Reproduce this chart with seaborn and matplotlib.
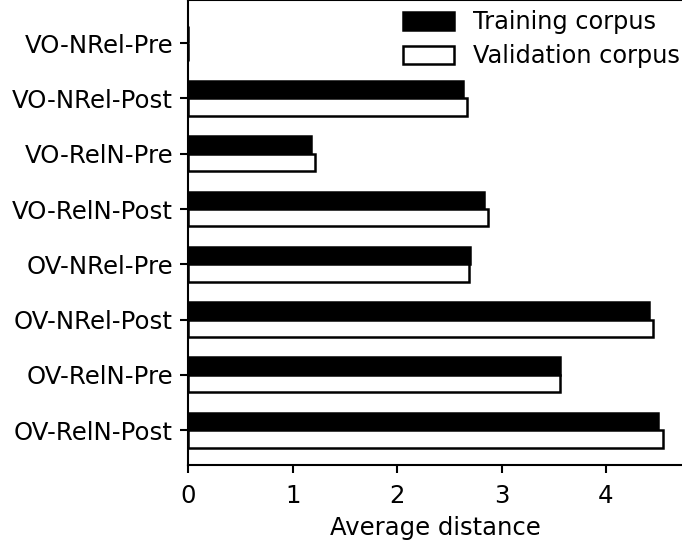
import matplotlib
matplotlib.use("Agg")
import matplotlib.pyplot as plt
import seaborn as sns
import pandas as pd

categories = ["VO-NRel-Pre", "VO-NRel-Post", "VO-RelN-Pre", "VO-RelN-Post",
              "OV-NRel-Pre", "OV-NRel-Post", "OV-RelN-Pre", "OV-RelN-Post"]
training = [0.0, 2.63, 1.18, 2.83, 2.70, 4.41, 3.56, 4.50]
validation = [0.0, 2.67, 1.21, 2.87, 2.69, 4.45, 3.56, 4.55]
series = ["Training corpus", "Validation corpus"]

df = pd.DataFrame({
    "category": categories * 2,
    "value": training + validation,
    "corpus": [series[0]] * len(categories) + [series[1]] * len(categories),
})

sns.set_style("ticks")
plt.rcParams["font.family"] = ["DejaVu Sans"]
plt.rcParams["text.color"] = "black"
plt.rcParams["axes.labelcolor"] = "black"
plt.rcParams["xtick.color"] = "black"
plt.rcParams["ytick.color"] = "black"

fig = plt.figure(figsize=(6.82, 5.44), dpi=100)
ax = fig.add_axes([188.3 / 682, 1 - 465 / 544, 1 - 188.3 / 682, 465 / 544])

sns.barplot(data=df, y="category", x="value", hue="corpus", order=categories,
            hue_order=series, palette=["black", "white"], width=0.63,
            edgecolor="black", linewidth=1.8, ax=ax, orient="h")

ax.set_xlim(0, (682 - 188.3) / 104.4)
ax.set_ylim(7.63, -0.78)
ax.set_xticks([0, 1, 2, 3, 4])
ax.set_xlabel("Average distance", fontsize=17.5, color="black", labelpad=5.5)
ax.set_ylabel("")
ax.tick_params(axis="both", labelsize=17.6, width=1.5, length=6, color="black",
               labelcolor="black")
ax.tick_params(axis="x", pad=8)
ax.tick_params(axis="y", pad=5)
for s in ["left", "bottom", "top"]:
    ax.spines[s].set_linewidth(1.5)
    ax.spines[s].set_color("black")
ax.spines["right"].set_visible(False)

leg = ax.legend(loc="upper right", bbox_to_anchor=(1.0, 0.983), frameon=False,
                fontsize=17.3, handlelength=2.1, handleheight=0.8,
                borderaxespad=0.0, borderpad=0.1, handletextpad=0.8,
                labelspacing=0.42)
for t in leg.get_texts():
    t.set_color("black")
for h in leg.legend_handles:
    h.set_edgecolor("black")
    h.set_linewidth(1.8)

fig.savefig("out.png", dpi=100)
